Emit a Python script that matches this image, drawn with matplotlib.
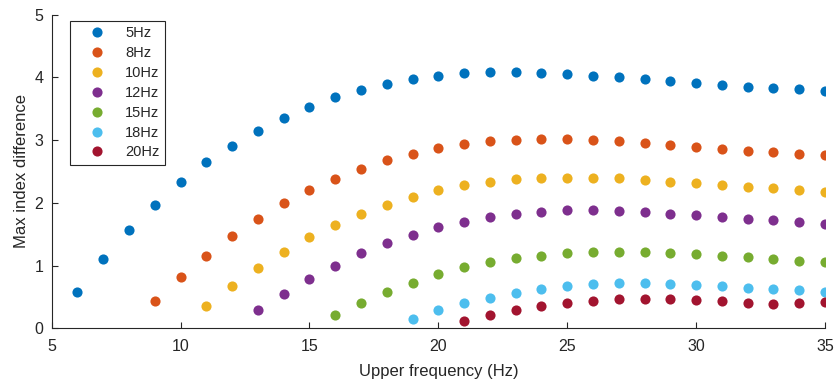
import numpy as np
import matplotlib.pyplot as plt

plt.rcParams['font.family'] = ['Liberation Sans', 'DejaVu Sans']

# 下限周波数ごとの系列 (上限周波数 -> 最大インデックス差)
labels = ["5Hz", "8Hz", "10Hz", "12Hz", "15Hz", "18Hz", "20Hz"]
colors = ["#0072BD", "#D95319", "#EDB120", "#7E2F8E", "#77AC30", "#4DBEEE", "#A2142F"]

x_5 = list(range(6, 36))
y_5 = [0.58, 1.10, 1.56, 1.97, 2.33, 2.65, 2.91, 3.15, 3.35, 3.53, 3.68, 3.80, 3.90, 3.98, 4.03,
       4.07, 4.08, 4.08, 4.07, 4.06, 4.03, 4.00, 3.97, 3.94, 3.91, 3.88, 3.85, 3.83, 3.81, 3.78]

x_8 = list(range(9, 36))
y_8 = [0.43, 0.82, 1.16, 1.47, 1.74, 1.99, 2.20, 2.38, 2.54, 2.68, 2.78, 2.87, 2.94, 2.98, 3.00,
       3.01, 3.01, 3.00, 2.98, 2.95, 2.92, 2.89, 2.86, 2.83, 2.81, 2.78, 2.76]

x_10 = list(range(11, 36))
y_10 = [0.35, 0.67, 0.96, 1.22, 1.45, 1.65, 1.82, 1.97, 2.10, 2.20, 2.28, 2.33, 2.38, 2.40, 2.40,
        2.40, 2.39, 2.37, 2.34, 2.32, 2.29, 2.26, 2.23, 2.20, 2.18]

x_12 = list(range(13, 36))
y_12 = [0.29, 0.55, 0.79, 1.00, 1.20, 1.36, 1.49, 1.61, 1.70, 1.78, 1.83, 1.85, 1.88, 1.88, 1.87,
        1.85, 1.83, 1.81, 1.78, 1.75, 1.73, 1.70, 1.67]

x_15 = list(range(16, 36))
y_15 = [0.21, 0.40, 0.58, 0.73, 0.86, 0.97, 1.06, 1.12, 1.16, 1.20, 1.22, 1.22, 1.22, 1.20, 1.19,
        1.16, 1.13, 1.11, 1.08, 1.06]

x_18 = list(range(19, 36))
y_18 = [0.15, 0.29, 0.40, 0.49, 0.57, 0.63, 0.67, 0.70, 0.72, 0.72, 0.71, 0.69, 0.67, 0.65, 0.63,
        0.61, 0.58]

x_20 = list(range(21, 36))
y_20 = [0.11, 0.21, 0.29, 0.35, 0.40, 0.43, 0.46, 0.46, 0.46, 0.45, 0.43, 0.41, 0.39, 0.40, 0.42]

series = [(x_5, y_5), (x_8, y_8), (x_10, y_10), (x_12, y_12), (x_15, y_15), (x_18, y_18), (x_20, y_20)]

fig = plt.figure(figsize=(8.39, 3.86), dpi=100)
ax = fig.add_axes([0.0616, 0.1495, 0.9217, 0.8125])

for (xs, ys), lab, c in zip(series, labels, colors):
    ax.plot(xs, ys, "o", color=c, markersize=7.3, markeredgewidth=0, label=lab)

ax.set_xlim(5, 35)
ax.set_ylim(0, 5)
ax.set_xticks([5, 10, 15, 20, 25, 30, 35])
ax.set_yticks([0, 1, 2, 3, 4, 5])

ax.spines["top"].set_visible(False)
ax.spines["right"].set_visible(False)
for s in ["left", "bottom"]:
    ax.spines[s].set_color("#262626")
    ax.spines[s].set_linewidth(0.8)
ax.tick_params(direction="in", length=4, width=0.8, colors="#262626", labelsize=11.5)
ax.tick_params(axis="x", pad=8)
ax.tick_params(axis="y", pad=6)

ax.set_xlabel("Upper frequency (Hz)", fontsize=12, color="#262626", labelpad=7)
ax.set_ylabel("Max index difference", fontsize=12, color="#262626")

leg = ax.legend(loc="upper left", bbox_to_anchor=(0.0237, 0.981), borderaxespad=0,
                fancybox=False, edgecolor="#262626", fontsize=10.5, labelspacing=0.40,
                handletextpad=0.47, handlelength=2.9, borderpad=0.4, framealpha=1)
leg.get_frame().set_linewidth(0.8)
for t in leg.get_texts():
    t.set_color("#262626")

fig.savefig("out.png", dpi=100)
